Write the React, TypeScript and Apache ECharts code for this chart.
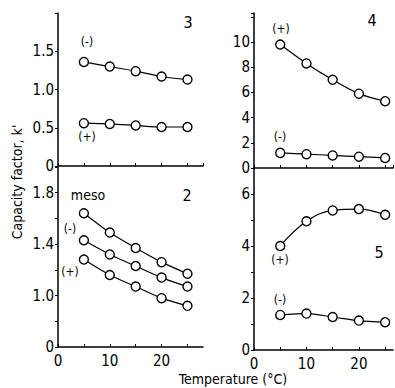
import React, { useEffect, useRef } from "react";
import * as echarts from "echarts";

const temps = [5, 10, 15, 20, 25];
// Panel 3 (top-left)
const p3Minus = [1.36, 1.3, 1.24, 1.17, 1.13];
const p3Plus = [0.56, 0.55, 0.53, 0.51, 0.51];
// Panel 4 (top-right)
const p4Plus = [9.8, 8.3, 7.0, 5.9, 5.3];
const p4Minus = [1.2, 1.1, 1.0, 0.9, 0.8];
// Panel 2 (bottom-left)
const p2Meso = [1.64, 1.49, 1.37, 1.26, 1.17];
const p2Minus = [1.43, 1.32, 1.23, 1.14, 1.07];
const p2Plus = [1.28, 1.16, 1.07, 0.98, 0.92];
// Panel 5 (bottom-right)
const p5Plus = [4.0, 4.95, 5.37, 5.42, 5.2];
const p5Minus = [1.35, 1.4, 1.27, 1.13, 1.07];

const xTickLabels = [0, 10, 20];
const p3Labels = [0, 0.5, 1.0, 1.5];
const p4Labels = [0, 2, 4, 6, 8, 10];
const p2Labels = [1.0, 1.4, 1.8];
const p5Labels = [0, 2, 4, 6];

const FONT = "'DejaVu Sans Condensed', 'Liberation Sans Narrow', 'DejaVu Sans', sans-serif";

const near = (v: number, arr: number[]) => arr.some((a) => Math.abs(a - v) < 1e-6);

export default function App() {
  const ref = useRef<HTMLDivElement>(null);
  useEffect(() => {
    if (!ref.current) return;
    const chart = echarts.init(ref.current, null, { renderer: "svg" });
    const axisLine = { show: true, lineStyle: { color: "#000", width: 1.5 } };
    const xAxisBase = (grid: number, max: number, labels: boolean) => ({
      type: "value",
      gridIndex: grid,
      min: 0,
      max,
      interval: 5,
      axisLine,
      splitLine: { show: false },
      axisTick: { show: true, inside: true, length: 3, lineStyle: { color: "#000" } },
      axisLabel: {
        show: labels,
        color: "#000",
        fontFamily: FONT,
        fontSize: 15,
        margin: 6,
        showMaxLabel: false,
        formatter: (v: number) => (near(v, xTickLabels) ? String(v) : ""),
      },
    });
    const yAxisBase = (grid: number, min: number, max: number, interval: number, fmt: (v: number) => string) => ({
      type: "value",
      gridIndex: grid,
      min,
      max,
      interval,
      axisLine,
      splitLine: { show: false },
      axisTick: { show: true, length: 3, lineStyle: { color: "#000" } },
      axisLabel: { color: "#000", fontFamily: FONT, fontSize: 15, margin: 4, formatter: fmt },
    });
    const mk = (x: number, y: number, data: number[], smooth = 0.3) => ({
      type: "line",
      xAxisIndex: x,
      yAxisIndex: y,
      data: temps.map((t, i) => [t, data[i]]),
      symbol: "circle",
      symbolSize: 9,
      smooth,
      lineStyle: { color: "#000", width: 1.2 },
      itemStyle: { color: "#fff", borderColor: "#000", borderWidth: 1.4 },
      z: 3,
    });
    const txt = (x: number, y: number, s: string, size = 13, weight: any = "normal") => ({
      type: "text",
      x,
      y,
      style: { text: s, fill: "#000", font: `${weight} ${size}px ${FONT}`, textAlign: "center", textVerticalAlign: "middle" },
    });
    chart.setOption({
      animation: false,
      backgroundColor: "#fff",
      grid: [
        { left: 58, top: 13, width: 145, height: 153 },
        { left: 254, top: 13, width: 139, height: 155 },
        { left: 58, top: 167, width: 145, height: 180 },
        { left: 254, top: 168, width: 139, height: 182 },
      ],
      xAxis: [
        xAxisBase(0, 28, false),
        xAxisBase(1, 26.5, false),
        xAxisBase(2, 28, true),
        xAxisBase(3, 26.5, true),
      ],
      yAxis: [
        yAxisBase(0, 0, 2, 0.5, (v) => (near(v, p3Labels) ? (v === 0 ? "0" : v.toFixed(1)) : "")),
        yAxisBase(1, 0, 12.3, 2, (v) => (near(v, p4Labels) ? String(v) : "")),
        yAxisBase(2, 0.6, 2.0, 0.2, (v) => (Math.abs(v - 0.6) < 1e-6 ? "0" : near(v, p2Labels) ? v.toFixed(1) : "")),
        yAxisBase(3, 0, 7, 1, (v) => (near(v, p5Labels) ? String(v) : "")),
      ],
      series: [
        mk(0, 0, p3Minus),
        mk(0, 0, p3Plus),
        mk(1, 1, p4Plus),
        mk(1, 1, p4Minus),
        mk(2, 2, p2Meso),
        mk(2, 2, p2Minus),
        mk(2, 2, p2Plus),
        mk(3, 3, p5Plus, 0.4),
        mk(3, 3, p5Minus),
      ],
      graphic: [
        txt(188, 22, "3", 16),
        txt(87, 42, "(-)", 12),
        txt(87, 137, "(+)", 12),
        txt(372, 20, "4", 16),
        txt(281, 29, "(+)", 12),
        txt(280, 137, "(-)", 12),
        txt(88, 195, "meso", 14),
        txt(187, 195, "2", 16),
        txt(70, 229, "(-)", 12),
        txt(70, 272, "(+)", 12),
        txt(280, 260, "(+)", 12),
        txt(379, 252, "5", 16),
        txt(280, 300, "(-)", 12),
        {
          type: "text",
          x: 233,
          y: 379,
          style: { text: "Temperature (°C)", fill: "#000", font: `14px ${FONT}`, textAlign: "center", textVerticalAlign: "middle" },
        },
        {
          type: "text",
          x: 17,
          y: 182,
          rotation: Math.PI / 2,
          style: { text: "Capacity factor, k'", fill: "#000", font: `14px ${FONT}`, textAlign: "center", textVerticalAlign: "middle" },
        },
      ],
    });
    return () => chart.dispose();
  }, []);
  return <div ref={ref} style={{ position: "fixed", left: 0, top: 0, width: 395, height: 388 }} />;
}
